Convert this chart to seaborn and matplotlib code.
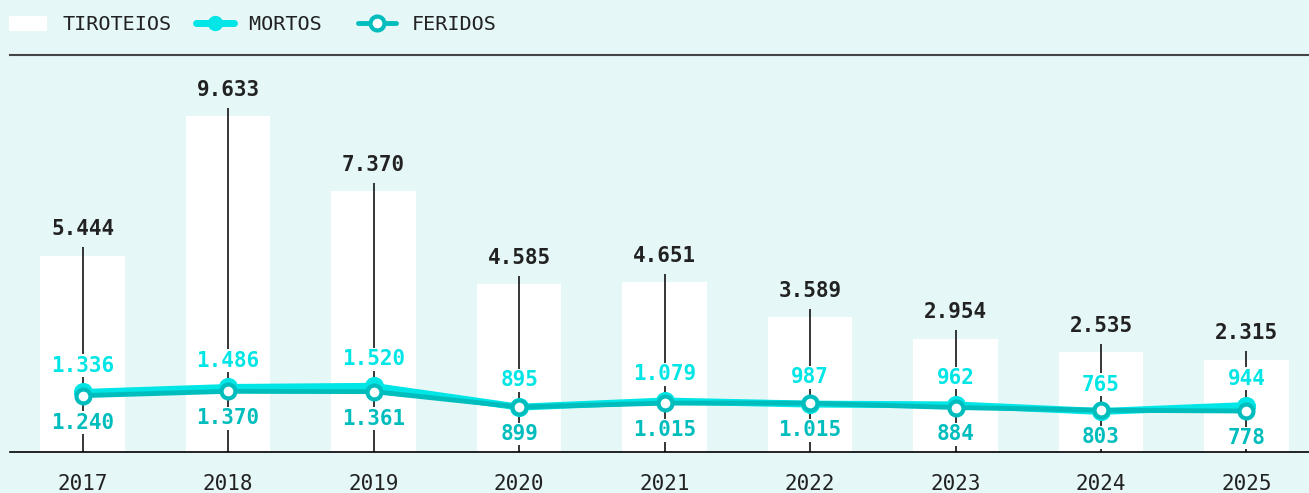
import pandas as pd
import seaborn as sns
import matplotlib.pyplot as plt
from matplotlib.lines import Line2D
from matplotlib.patches import Patch

# data
anos = ['2017', '2018', '2019', '2020', '2021', '2022', '2023', '2024', '2025']
tiroteios = [5444, 9633, 7370, 4585, 4651, 3589, 2954, 2535, 2315]
mortos = [1336, 1486, 1520, 895, 1079, 987, 962, 765, 944]
feridos = [1240, 1370, 1361, 899, 1015, 1015, 884, 803, 778]

def fmt(v):
    return f'{v:,}'.replace(',', '.')

BG = '#e5f7f7'
C_MORTOS = '#00e5e5'
C_FERIDOS = '#00bdbd'
DARK = '#222222'

df = pd.DataFrame({'ano': anos, 'tiroteios': tiroteios,
                   'mortos': mortos, 'feridos': feridos})
df['pos'] = range(len(df))

sns.set_style('white')
plt.rcParams['font.family'] = ['DejaVu Sans Mono', 'DejaVu Sans']

fig = plt.figure(figsize=(13.09, 4.93), dpi=100, facecolor=BG)
ax = fig.add_axes([0.0076, 0.0832, 0.9924, 0.8052])
ax.set_facecolor(BG)

sns.barplot(data=df, x='ano', y='tiroteios', color='white', width=0.58,
            saturation=1, ax=ax, zorder=1)
for p in ax.patches:
    p.set_edgecolor('none')
    # bars are drawn down to the axis line
    p.set_y(-450)
    p.set_height(p.get_height() + 450)

# thin stems through each bar
ax.vlines(df['pos'], -450, df['tiroteios'] + 250, color='black', lw=1.1, zorder=2)

sns.lineplot(data=df, x='pos', y='mortos', color=C_MORTOS, lw=5, marker='o',
             markersize=13, markeredgecolor=C_MORTOS, ax=ax, zorder=4)
sns.lineplot(data=df, x='pos', y='feridos', color=C_FERIDOS, lw=3.5, marker='o',
             markersize=10, markerfacecolor='white', markeredgecolor=C_FERIDOS,
             markeredgewidth=3, ax=ax, zorder=5)

box = dict(facecolor='white', edgecolor='none', pad=1)
for i, r in df.iterrows():
    ax.annotate(fmt(r['tiroteios']), (r['pos'], r['tiroteios']), xytext=(0, 19),
                textcoords='offset points', ha='center', va='center',
                fontsize=15, fontweight='bold', color=DARK, zorder=6)
    ax.annotate(fmt(r['mortos']), (r['pos'], r['mortos']), xytext=(0, 19.4),
                textcoords='offset points', ha='center', va='center',
                fontsize=15, fontweight='bold', color=C_MORTOS, bbox=box, zorder=6)
    ax.annotate(fmt(r['feridos']), (r['pos'], r['feridos']), xytext=(0, -19.4),
                textcoords='offset points', ha='center', va='center',
                fontsize=15, fontweight='bold', color=C_FERIDOS, bbox=box, zorder=6)

ax.set_xlim(-0.5, 8.43)
ax.set_ylim(-450, 11460)
ax.set_xlabel('')
ax.set_ylabel('')
ax.set_yticks([])
ax.set_xticks(df['pos'])
ax.set_xticklabels(anos, fontsize=15, color=DARK)
ax.tick_params(axis='x', direction='out', length=10, width=1.1, color='black', pad=6)
for s in ['left', 'right']:
    ax.spines[s].set_visible(False)
ax.spines['bottom'].set_color('black')
ax.spines['bottom'].set_linewidth(1.2)
ax.spines['top'].set_color('#444444')
ax.spines['top'].set_linewidth(1.5)

handles = [
    Patch(facecolor='white', edgecolor='none'),
    Line2D([], [], color=C_MORTOS, lw=5, marker='o', markersize=10),
    Line2D([], [], color=C_FERIDOS, lw=3.5, marker='o', markersize=10,
           markerfacecolor='white', markeredgewidth=3),
]
fig.legend(handles, ['TIROTEIOS', 'MORTOS ', 'FERIDOS'], loc='center left',
           bbox_to_anchor=(1 / 1309, 1 - 25 / 493), borderaxespad=0, ncol=3,
           frameon=False, fontsize=14.5, handlelength=1.9, handleheight=0.8,
           columnspacing=1.2, handletextpad=0.75, labelcolor=DARK)

fig.savefig('out.png', dpi=100, facecolor=BG)
